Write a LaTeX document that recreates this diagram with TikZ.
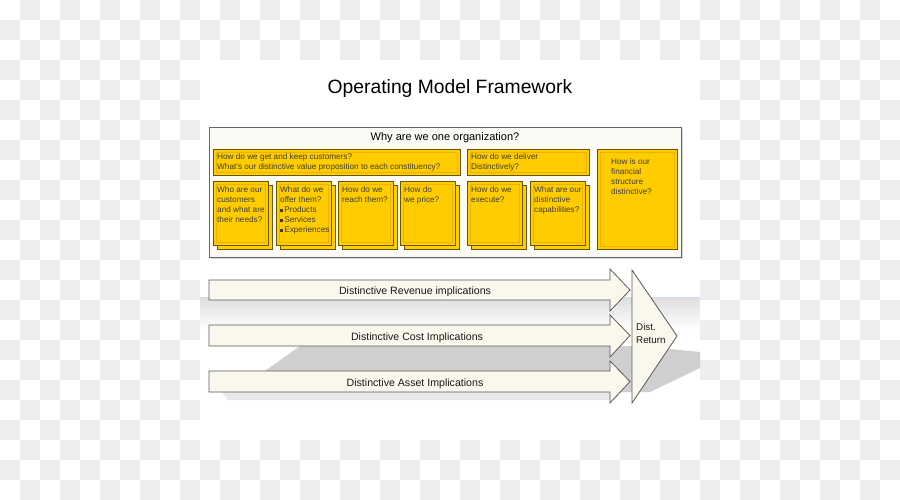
\documentclass[tikz,border=0pt]{standalone}
\usepackage{fontspec}
\setmainfont{Liberation Sans}
\usetikzlibrary{shadows}
\definecolor{qyellow}{RGB}{255,204,0}
\definecolor{qedge}{RGB}{105,86,0}
\definecolor{qbevel}{RGB}{232,180,0}
\definecolor{cream}{RGB}{250,248,236}
\definecolor{framefill}{RGB}{251,250,244}
\definecolor{checker}{RGB}{238,238,238}
\definecolor{qtextcol}{RGB}{60,60,60}
\definecolor{floorline}{RGB}{205,218,240}
\begin{document}
\begin{tikzpicture}[
  x=1pt,y=-1pt,
  frame/.style={draw=black!60, fill=framefill, line width=0.8pt, anchor=north west, inner sep=0pt,
    drop shadow={shadow xshift=2pt, shadow yshift=-2pt, fill=black!30}},
  qbox/.style={draw=qedge, fill=qyellow, line width=0.7pt, anchor=north west, inner sep=0pt,
    path picture={\draw[qbevel, line width=0.6pt]
      ([shift={(2.8pt,-2.8pt)}]path picture bounding box.north west) rectangle
      ([shift={(-2.8pt,2.8pt)}]path picture bounding box.south east);}},
  qcard/.style={qbox, minimum width=55pt, minimum height=64pt,
    copy shadow={shadow xshift=4pt, shadow yshift=-4pt}},
  qtext/.style={anchor=north west, align=left, inner xsep=4pt, inner ysep=5.5pt, text=qtextcol,
    font=\fontsize{8.2}{10}\selectfont},
  impl/.style={draw=black!65, fill=cream, line width=0.8pt},
  impllabel/.style={font=\fontsize{10.6}{12}\selectfont, text=black!90}
]
\newcommand{\sqbul}{\rule[0.7pt]{2.8pt}{2.8pt}\,}
% checker background and slide
\foreach \i in {0,...,44}{
  \foreach \j in {0,...,24}{
    \pgfmathtruncatemacro{\odd}{mod(\i+\j,2)}
    \ifnum\odd=1 \fill[checker] (20*\i,20*\j) rectangle ++(20,20); \fi
  }
}
\fill[white] (200,60) rectangle (700,440);
\useasboundingbox (0,0) rectangle (900,500);

\node[font=\fontsize{19.3}{22}\selectfont] (title) at (450,89) {Operating Model Framework};

% upper frame
\node[frame, minimum width=472pt, minimum height=130pt] (org) at (209,127) {};
\node[font=\fontsize{11}{13}\selectfont] (orgt) at (445,138) {Why are we one organization?};

\node[qbox, minimum width=247pt, minimum height=26pt] (keep) at (213,149) {};
\node[qtext, inner ysep=4.5pt, font=\fontsize{8.2}{9.4}\selectfont] (keept) at (keep.north west) {How do we get and keep customers?\\What's our distinctive value proposition to each constituency?};
\node[qbox, minimum width=122pt, minimum height=26pt] (deliv) at (467,149) {};
\node[qtext, inner ysep=4.5pt, font=\fontsize{8.2}{9.4}\selectfont] (delivt) at (deliv.north west) {How do we deliver\\Distinctively?};
\node[qbox, minimum width=80pt, minimum height=100pt] (fin) at (597,149) {};
\node[qtext] (fint) at (607,153) {How is our\\financial\\structure\\distinctive?};

\node[qcard] (who) at (213,181) {};
\node[qtext] (whot) at (who.north west) {Who are our\\customers\\and what are\\their needs?};
\node[qcard] (offer) at (276,181) {};
\node[qtext] (offert) at (offer.north west) {What do we\\offer them?\\\sqbul Products\\\sqbul Services\\\sqbul Experiences};
\node[qcard] (reach) at (338,181) {};
\node[qtext] (reacht) at (reach.north west) {How do we\\reach them?};
\node[qcard] (price) at (400,181) {};
\node[qtext] (pricet) at (price.north west) {How do\\we price?};
\node[qcard] (exec) at (467,181) {};
\node[qtext] (exect) at (exec.north west) {How do we\\execute?};
\node[qcard] (capab) at (530,181) {};
\node[qtext] (capabt) at (capab.north west) {What are our\\distinctive\\capabilities?};

% floor and shadows
\shade[top color=black!13, bottom color=white] (200,297) rectangle (700,330);
\draw[floorline, line width=1pt] (200,297) -- (700,297);
\fill[black!19] (300,346) -- (640,346) -- (700,352) -- (700,368) -- (650,392) -- (230,396) -- cycle;
\fill[black!9] (222,392) -- (610,392) -- (610,400) -- (228,400) -- cycle;

% implication arrows
\draw[impl] (209,280) -- (610,280) -- (610,269) -- (630,290) -- (610,311) -- (610,300) -- (209,300) -- cycle;
\draw[impl] (209,325) -- (610,325) -- (610,315) -- (630,335.5) -- (610,357) -- (610,346) -- (209,346) -- cycle;
\draw[impl] (209,371) -- (610,371) -- (610,361) -- (630,381.5) -- (610,403) -- (610,392) -- (209,392) -- cycle;
\node[impllabel] (rev) at (415,292) {Distinctive Revenue implications};
\node[impllabel] (cost) at (417,337.5) {Distinctive Cost Implications};
\node[impllabel] (asset) at (415,383.5) {Distinctive Asset Implications};

% return triangle
\draw[impl] (632,270) -- (677,336) -- (632,403) -- cycle;
\node[impllabel, anchor=west, align=left, inner sep=0pt, font=\fontsize{9.8}{13}\selectfont] (ret) at (636,333) {Dist.\\Return};
\end{tikzpicture}
\end{document}
